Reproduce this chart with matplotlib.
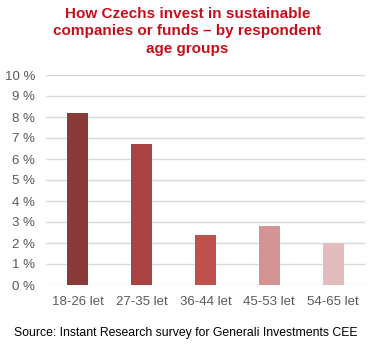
import matplotlib.pyplot as plt
import numpy as np

plt.rcParams['font.family'] = ['Liberation Sans', 'DejaVu Sans']

# values (%)
age_groups = ['18-26 let', '27-35 let', '36-44 let', '45-53 let', '54-65 let']
share = [8.2, 6.7, 2.4, 2.8, 2.0]
colors = ['#8B3A3A', '#A84444', '#C0504D', '#D49494', '#E3BDBD']

fig = plt.figure(figsize=(3.71, 3.46), dpi=100)
ax = fig.add_axes([46/371, 1 - 285/346, (365 - 46)/371, 210/346])

x = np.arange(len(age_groups))
ax.bar(x, share, width=0.33, color=colors, zorder=3)

ax.set_xlim(-0.5, len(age_groups) - 0.5)
ax.set_ylim(0, 10)
ax.set_yticks(range(0, 11))
ax.set_yticklabels([f'{v} %' for v in range(0, 11)])
ax.set_xticks(x)
ax.set_xticklabels(age_groups, fontsize=9.5)
ax.grid(axis='y', color='#D9D9D9', linewidth=1, zorder=0)
for s in ax.spines.values():
    s.set_visible(False)
ax.tick_params(axis='both', length=0, colors='#595959', labelsize=9.5)
ax.tick_params(axis='y', pad=8)
ax.tick_params(axis='x', pad=8)

fig.text(0.505, 1 - 7/346,
         'How Czechs invest in sustainable\ncompanies or funds – by respondent\nage groups',
         ha='center', va='top', color='#C5101C', fontsize=11, fontweight='bold',
         linespacing=1.3)
fig.text(0.502, 1 - 333/346,
         'Source: Instant Research survey for Generali Investments CEE',
         ha='center', va='center', color='#000000', fontsize=8.8)

fig.savefig('out.png', dpi=100)
